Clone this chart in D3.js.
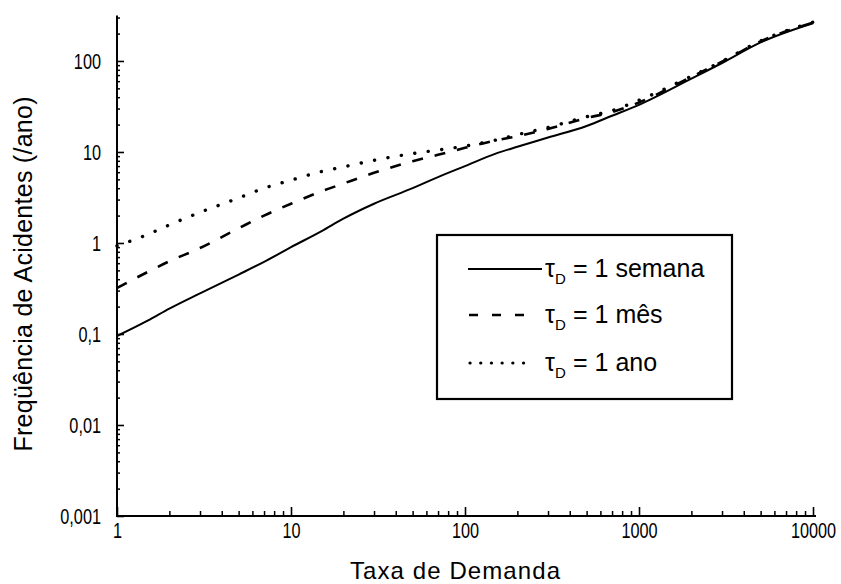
<!DOCTYPE html>
<html>
<head>
<meta charset="utf-8">
<script src="https://cdn.jsdelivr.net/npm/d3@7/dist/d3.min.js"></script>
<style>
  html, body { margin: 0; padding: 0; background: #fff; }
  svg { display: block; }
  text { font-family: "Liberation Sans", Arial, sans-serif; fill: #000; }
</style>
</head>
<body>
<svg id="chart" width="841" height="584"></svg>
<script>
// Demand rate (x) shared by the three curves
const taxa = [1, 1.5, 2, 3, 5, 7, 10, 15, 20, 30, 50, 70, 100, 150, 200, 300, 500, 700, 1000, 2000, 3000, 5000, 10000];

// Accident frequency (/ano) for each detection time τD
const semana = [0.095, 0.14, 0.19, 0.28, 0.45, 0.62, 0.9, 1.35, 1.85, 2.7, 4.0, 5.3, 7.0, 9.6, 11.4, 14.4, 19.3, 25, 33, 64, 95, 160, 260];
const mes    = [0.32, 0.48, 0.63, 0.88, 1.45, 2.0, 2.7, 3.7, 4.5, 5.9, 7.9, 9.3, 11.1, 13.4, 14.9, 17.9, 23.6, 27.5, 35, 67, 98, 164, 264];
const ano    = [0.93, 1.24, 1.58, 2.17, 3.12, 4.0, 4.9, 6.1, 6.85, 8.1, 9.6, 10.5, 11.6, 13.5, 15.5, 18.6, 24.4, 28.5, 37, 68, 99, 166, 267];

const legendLabels = ["1 semana", "1 mês", "1 ano"];

// Axis ticks and their labels
const xTicks = [1, 10, 100, 1000, 10000];
const xTickLabels = ["1", "10", "100", "1000", "10000"];
const yTicks = [0.001, 0.01, 0.1, 1, 10, 100];
const yTickLabels = ["0,001", "0,01", "0,1", "1", "10", "100"];

const svg = d3.select("#chart");

const x = d3.scaleLog().domain([1, 10000]).range([117, 813]);
const y = d3.scaleLog().domain([0.001, 316]).range([516, 15.5]);

// minor tick values (2..9 in every decade)
function minors(lo, hi) {
  const out = [];
  for (let e = Math.log10(lo); e < Math.log10(hi); e++) {
    for (let m = 2; m <= 9; m++) {
      const v = m * Math.pow(10, e);
      if (v <= hi) out.push(v);
    }
  }
  return out;
}

const narrow = 0.74;

// ---- x axis ----
svg.append("g")
  .attr("transform", `translate(0,${y(0.001)})`)
  .call(d3.axisBottom(x).tickValues(minors(1, 10000)).tickSize(-5).tickSizeOuter(0).tickFormat(""))
  .call(g => g.select(".domain").remove())
  .call(g => g.selectAll("line").attr("stroke-width", 1.5));

const gx = svg.append("g")
  .attr("transform", `translate(0,${y(0.001)})`)
  .call(d3.axisBottom(x).tickValues(xTicks).tickSize(-9).tickSizeOuter(0).tickPadding(6)
    .tickFormat((d, i) => xTickLabels[i]));
gx.select(".domain").attr("stroke-width", 2).attr("d", `M${x(1) - 1},0H${x(10000) + 3}`);
gx.selectAll("line").attr("stroke-width", 1.6);
gx.selectAll("text")
  .attr("font-size", 22)
  .attr("font-family", "Liberation Sans, Arial, sans-serif")
  .attr("transform", `scale(${narrow},1)`);

// ---- y axis ----
svg.append("g")
  .attr("transform", `translate(${x(1)},0)`)
  .call(d3.axisLeft(y).tickValues(minors(0.001, 316)).tickSize(-3).tickSizeOuter(0).tickFormat(""))
  .call(g => g.select(".domain").remove())
  .call(g => g.selectAll("line").attr("stroke-width", 1.5));

const gy = svg.append("g")
  .attr("transform", `translate(${x(1)},0)`)
  .call(d3.axisLeft(y).tickValues(yTicks).tickSize(-7).tickSizeOuter(0).tickPadding(16 / narrow)
    .tickFormat((d, i) => yTickLabels[i]));
gy.select(".domain").attr("stroke-width", 2).attr("d", `M0,${y(316)}V${y(0.001) + 1}`);
gy.selectAll("line").attr("stroke-width", 1.6);
gy.selectAll("text")
  .attr("font-size", 22)
  .attr("font-family", "Liberation Sans, Arial, sans-serif")
  .attr("transform", `scale(${narrow},1)`);

// ---- axis titles ----
svg.append("text")
  .attr("x", 455).attr("y", 579)
  .attr("text-anchor", "middle")
  .attr("font-size", 24)
  .attr("textLength", 210)
  .attr("lengthAdjust", "spacing")
  .text("Taxa de Demanda");

svg.append("text")
  .attr("transform", "translate(32,274) rotate(-90)")
  .attr("text-anchor", "middle")
  .attr("font-size", 25)
  .attr("textLength", 355)
  .attr("lengthAdjust", "spacing")
  .text("Freqüência de Acidentes (/ano)");

// ---- curves ----
const styles = [
  { values: semana, width: 2,   dash: null,        cap: "butt"  },
  { values: mes,    width: 2.6, dash: "11,12",     cap: "butt"  },
  { values: ano,    width: 3.4, dash: "0.1,13.5",  cap: "round" }
];

const line = d3.line()
  .x(d => x(d[0]))
  .y(d => y(d[1]))
  .curve(d3.curveMonotoneX);

styles.forEach(s => {
  svg.append("path")
    .datum(taxa.map((t, i) => [t, s.values[i]]))
    .attr("d", line)
    .attr("fill", "none")
    .attr("stroke", "#000")
    .attr("stroke-width", s.width)
    .attr("stroke-linecap", s.cap)
    .attr("stroke-dasharray", s.dash);
});

// ---- legend ----
const lg = svg.append("g");
lg.append("rect")
  .attr("x", 437).attr("y", 235).attr("width", 295).attr("height", 164)
  .attr("fill", "#fff").attr("stroke", "#000").attr("stroke-width", 2.2);

const legendRows = [
  { y: 269, x1: 468, x2: 542, width: 2,   dash: null,       cap: "butt"  },
  { y: 315, x1: 469, x2: 524, width: 2.6, dash: "9,14",     cap: "butt"  },
  { y: 363, x1: 470, x2: 524, width: 3.2, dash: "0.1,10.6", cap: "round" }
];

legendRows.forEach((r, i) => {
  lg.append("line")
    .attr("x1", r.x1).attr("x2", r.x2).attr("y1", r.y).attr("y2", r.y)
    .attr("stroke", "#000").attr("stroke-width", r.width)
    .attr("stroke-linecap", r.cap)
    .attr("stroke-dasharray", r.dash);
  const t = lg.append("text")
    .attr("x", 545).attr("y", r.y + 8)
    .attr("font-size", 25);
  t.append("tspan").text("τ");
  t.append("tspan").attr("dy", 7).attr("font-size", 15).text("D");
  t.append("tspan").attr("dy", -7).attr("x", 573).text("= " + legendLabels[i]);
});
</script>
</body>
</html>
